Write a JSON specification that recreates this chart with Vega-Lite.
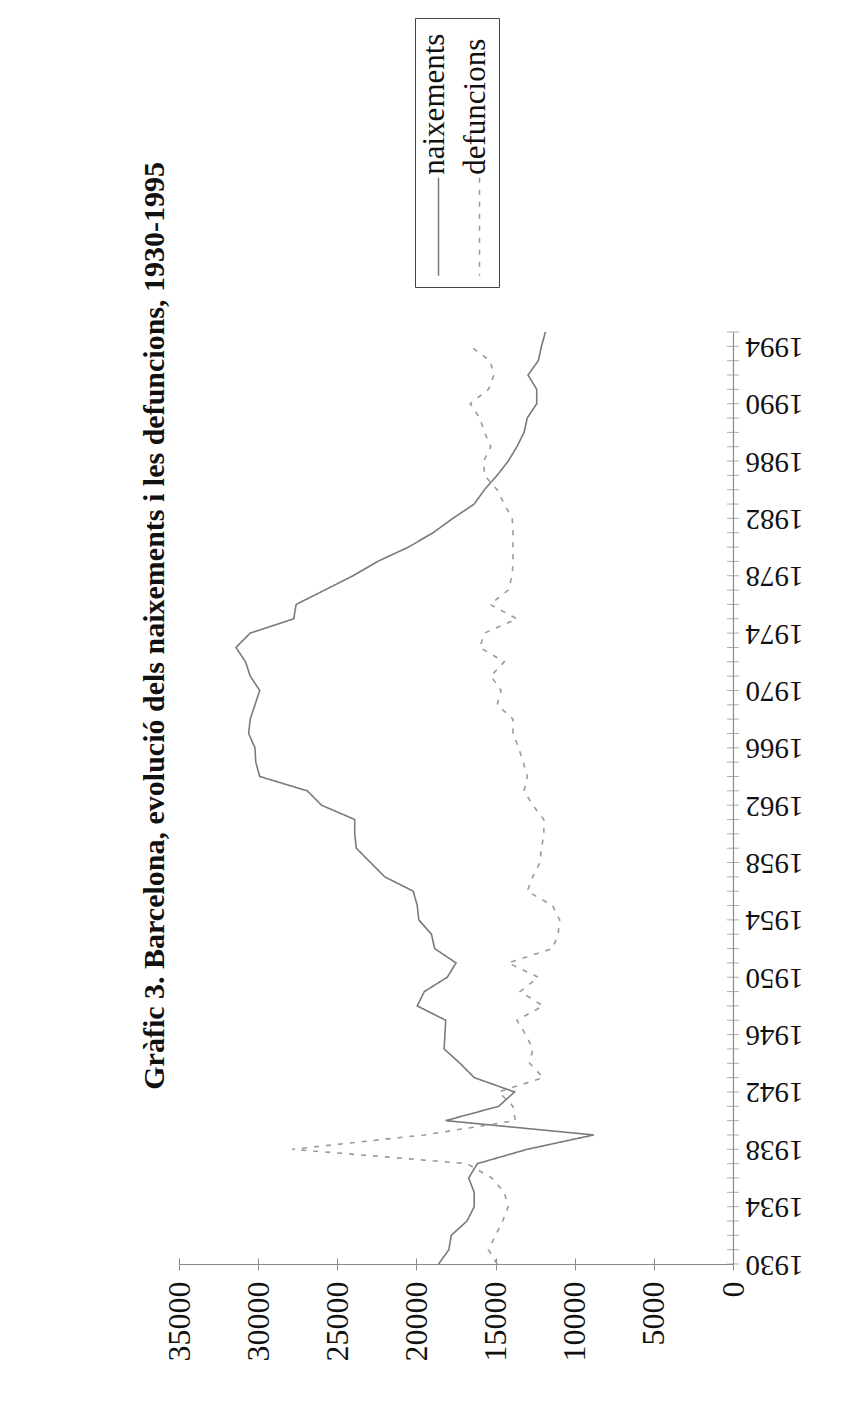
{
  "$schema": "https://vega.github.io/schema/vega-lite/v6.json",
  "width": 554,
  "height": 932,
  "autosize": {"type": "none"},
  "padding": {"left": 179, "top": 332, "right": 118, "bottom": 137},
  "background": "white",
  "title": {
    "text": "Gràfic 3. Barcelona, evolució dels naixements i les defuncions, 1930-1995",
    "orient": "left",
    "anchor": "end",
    "frame": "group",
    "font": "Liberation Serif",
    "fontSize": 30,
    "fontWeight": "bold",
    "color": "#111111",
    "offset": -7,
    "dx": 170
  },
  "config": {
    "view": {"stroke": null},
    "axis": {"grid": false, "title": null, "labelFont": "Liberation Serif", "labelFontSize": 29, "labelColor": "#111111", "domainColor": "#8a8a8a", "tickColor": "#8a8a8a", "domainWidth": 1.2}
  },
  "resolve": {"axis": {"x": "independent"}},
  "data": {
    "values": [
      {"year": 1930, "series": "naixements", "value": 18600},
      {"year": 1931, "series": "naixements", "value": 17950},
      {"year": 1932, "series": "naixements", "value": 17800},
      {"year": 1933, "series": "naixements", "value": 16800},
      {"year": 1934, "series": "naixements", "value": 16350},
      {"year": 1935, "series": "naixements", "value": 16350},
      {"year": 1936, "series": "naixements", "value": 16700},
      {"year": 1937, "series": "naixements", "value": 16150},
      {"year": 1938, "series": "naixements", "value": 13000},
      {"year": 1939, "series": "naixements", "value": 8800},
      {"year": 1940, "series": "naixements", "value": 18150},
      {"year": 1941, "series": "naixements", "value": 14800},
      {"year": 1942, "series": "naixements", "value": 13800},
      {"year": 1943, "series": "naixements", "value": 16350},
      {"year": 1944, "series": "naixements", "value": 17250},
      {"year": 1945, "series": "naixements", "value": 18250},
      {"year": 1946, "series": "naixements", "value": 18200},
      {"year": 1947, "series": "naixements", "value": 18150},
      {"year": 1948, "series": "naixements", "value": 19950},
      {"year": 1949, "series": "naixements", "value": 19500},
      {"year": 1950, "series": "naixements", "value": 18050},
      {"year": 1951, "series": "naixements", "value": 17500},
      {"year": 1952, "series": "naixements", "value": 18850},
      {"year": 1953, "series": "naixements", "value": 19050},
      {"year": 1954, "series": "naixements", "value": 19850},
      {"year": 1955, "series": "naixements", "value": 19950},
      {"year": 1956, "series": "naixements", "value": 20200},
      {"year": 1957, "series": "naixements", "value": 22000},
      {"year": 1958, "series": "naixements", "value": 22900},
      {"year": 1959, "series": "naixements", "value": 23800},
      {"year": 1960, "series": "naixements", "value": 23900},
      {"year": 1961, "series": "naixements", "value": 23900},
      {"year": 1962, "series": "naixements", "value": 26000},
      {"year": 1963, "series": "naixements", "value": 26900},
      {"year": 1964, "series": "naixements", "value": 29900},
      {"year": 1965, "series": "naixements", "value": 30150},
      {"year": 1966, "series": "naixements", "value": 30200},
      {"year": 1967, "series": "naixements", "value": 30600},
      {"year": 1968, "series": "naixements", "value": 30500},
      {"year": 1969, "series": "naixements", "value": 30200},
      {"year": 1970, "series": "naixements", "value": 29900},
      {"year": 1971, "series": "naixements", "value": 30500},
      {"year": 1972, "series": "naixements", "value": 30800},
      {"year": 1973, "series": "naixements", "value": 31400},
      {"year": 1974, "series": "naixements", "value": 30500},
      {"year": 1975, "series": "naixements", "value": 27750},
      {"year": 1976, "series": "naixements", "value": 27600},
      {"year": 1977, "series": "naixements", "value": 25800},
      {"year": 1978, "series": "naixements", "value": 24000},
      {"year": 1979, "series": "naixements", "value": 22450},
      {"year": 1980, "series": "naixements", "value": 20500},
      {"year": 1981, "series": "naixements", "value": 18950},
      {"year": 1982, "series": "naixements", "value": 17700},
      {"year": 1983, "series": "naixements", "value": 16350},
      {"year": 1984, "series": "naixements", "value": 15700},
      {"year": 1985, "series": "naixements", "value": 14900},
      {"year": 1986, "series": "naixements", "value": 14200},
      {"year": 1987, "series": "naixements", "value": 13650},
      {"year": 1988, "series": "naixements", "value": 13200},
      {"year": 1989, "series": "naixements", "value": 13000},
      {"year": 1990, "series": "naixements", "value": 12400},
      {"year": 1991, "series": "naixements", "value": 12400},
      {"year": 1992, "series": "naixements", "value": 12950},
      {"year": 1993, "series": "naixements", "value": 12300},
      {"year": 1994, "series": "naixements", "value": 12100},
      {"year": 1995, "series": "naixements", "value": 11850},
      {"year": 1930, "series": "defuncions", "value": 14900},
      {"year": 1931, "series": "defuncions", "value": 15450},
      {"year": 1932, "series": "defuncions", "value": 15000},
      {"year": 1933, "series": "defuncions", "value": 14550},
      {"year": 1934, "series": "defuncions", "value": 14200},
      {"year": 1935, "series": "defuncions", "value": 14450},
      {"year": 1936, "series": "defuncions", "value": 15250},
      {"year": 1937, "series": "defuncions", "value": 16800},
      {"year": 1938, "series": "defuncions", "value": 27850},
      {"year": 1939, "series": "defuncions", "value": 19500},
      {"year": 1940, "series": "defuncions", "value": 13750},
      {"year": 1941, "series": "defuncions", "value": 13900},
      {"year": 1942, "series": "defuncions", "value": 14800},
      {"year": 1943, "series": "defuncions", "value": 12000},
      {"year": 1944, "series": "defuncions", "value": 12850},
      {"year": 1945, "series": "defuncions", "value": 12650},
      {"year": 1946, "series": "defuncions", "value": 13100},
      {"year": 1947, "series": "defuncions", "value": 13650},
      {"year": 1948, "series": "defuncions", "value": 12000},
      {"year": 1949, "series": "defuncions", "value": 13450},
      {"year": 1950, "series": "defuncions", "value": 12300},
      {"year": 1951, "series": "defuncions", "value": 14200},
      {"year": 1952, "series": "defuncions", "value": 11400},
      {"year": 1953, "series": "defuncions", "value": 11050},
      {"year": 1954, "series": "defuncions", "value": 10950},
      {"year": 1955, "series": "defuncions", "value": 11400},
      {"year": 1956, "series": "defuncions", "value": 13000},
      {"year": 1957, "series": "defuncions", "value": 12650},
      {"year": 1958, "series": "defuncions", "value": 12200},
      {"year": 1959, "series": "defuncions", "value": 12100},
      {"year": 1960, "series": "defuncions", "value": 11950},
      {"year": 1961, "series": "defuncions", "value": 11950},
      {"year": 1962, "series": "defuncions", "value": 12650},
      {"year": 1963, "series": "defuncions", "value": 13200},
      {"year": 1964, "series": "defuncions", "value": 13000},
      {"year": 1965, "series": "defuncions", "value": 13250},
      {"year": 1966, "series": "defuncions", "value": 13550},
      {"year": 1967, "series": "defuncions", "value": 13900},
      {"year": 1968, "series": "defuncions", "value": 13900},
      {"year": 1969, "series": "defuncions", "value": 14900},
      {"year": 1970, "series": "defuncions", "value": 14650},
      {"year": 1971, "series": "defuncions", "value": 15300},
      {"year": 1972, "series": "defuncions", "value": 14450},
      {"year": 1973, "series": "defuncions", "value": 16000},
      {"year": 1974, "series": "defuncions", "value": 15700},
      {"year": 1975, "series": "defuncions", "value": 13650},
      {"year": 1976, "series": "defuncions", "value": 15350},
      {"year": 1977, "series": "defuncions", "value": 14200},
      {"year": 1978, "series": "defuncions", "value": 13950},
      {"year": 1979, "series": "defuncions", "value": 13900},
      {"year": 1980, "series": "defuncions", "value": 13900},
      {"year": 1981, "series": "defuncions", "value": 13900},
      {"year": 1982, "series": "defuncions", "value": 13950},
      {"year": 1983, "series": "defuncions", "value": 14450},
      {"year": 1984, "series": "defuncions", "value": 14900},
      {"year": 1985, "series": "defuncions", "value": 15700},
      {"year": 1986, "series": "defuncions", "value": 15750},
      {"year": 1987, "series": "defuncions", "value": 15300},
      {"year": 1988, "series": "defuncions", "value": 15700},
      {"year": 1989, "series": "defuncions", "value": 16000},
      {"year": 1990, "series": "defuncions", "value": 16600},
      {"year": 1991, "series": "defuncions", "value": 15450},
      {"year": 1992, "series": "defuncions", "value": 15100},
      {"year": 1993, "series": "defuncions", "value": 15350},
      {"year": 1994, "series": "defuncions", "value": 16600}
    ]
  },
  "layer": [
    {
      "mark": {"type": "line", "strokeWidth": 1.6},
      "encoding": {
        "y": {
          "field": "year", "type": "quantitative",
          "scale": {"domain": [1930, 1995], "nice": false, "zero": false},
          "axis": {
            "orient": "right",
            "values": [1930,1931,1932,1933,1934,1935,1936,1937,1938,1939,1940,1941,1942,1943,1944,1945,1946,1947,1948,1949,1950,1951,1952,1953,1954,1955,1956,1957,1958,1959,1960,1961,1962,1963,1964,1965,1966,1967,1968,1969,1970,1971,1972,1973,1974,1975,1976,1977,1978,1979,1980,1981,1982,1983,1984,1985,1986,1987,1988,1989,1990,1991,1992,1993,1994,1995],
            "format": "d",
            "labelExpr": "(datum.value - 1930) % 4 === 0 ? datum.label : ''",
            "labelAngle": 180,
            "labelAlign": "right",
            "labelBaseline": "middle",
            "labelOverlap": false,
            "labelPadding": 12,
            "ticks": false
          }
        },
        "x": {
          "field": "value", "type": "quantitative",
          "scale": {"domain": [0, 35000], "reverse": true, "nice": false},
          "axis": {
            "orient": "bottom",
            "values": [0, 5000, 10000, 15000, 20000, 25000, 30000, 35000],
            "format": "d",
            "labelAngle": 270,
            "labelAlign": "right",
            "labelBaseline": "middle",
            "labelFontSize": 32,
            "labelPadding": 11,
            "tickSize": 6
          }
        },
        "order": {"field": "year", "type": "quantitative"},
        "color": {
          "field": "series", "type": "nominal",
          "scale": {"domain": ["naixements", "defuncions"], "range": ["#7a7a7a", "#9a9a9a"]},
          "legend": {
            "title": null,
            "orient": "none",
            "legendX": 236,
            "legendY": -314,
            "direction": "horizontal",
            "labelFont": "Liberation Serif",
            "labelFontSize": 31,
            "labelColor": "#111111",
            "labelLimit": 400,
            "symbolType": "M0,136L0,234",
            "symbolSize": 4,
            "symbolStrokeWidth": 1.5,
            "labelOffset": -19,
            "columnPadding": 9,
            "padding": 8,
            "strokeColor": "#444444",
            "fillColor": "white",
            "encode": {"labels": {"update": {"angle": {"value": -90}, "dx": {"value": -133}}}}
          }
        },
        "strokeDash": {
          "field": "series", "type": "nominal",
          "scale": {"domain": ["naixements", "defuncions"], "range": [[1, 0], [5, 7]]}
        }
      }
    },
    {
      "transform": [{"filter": "datum.series === 'naixements'"}],
      "mark": {"type": "tick", "orient": "horizontal", "size": 12, "thickness": 1, "color": "#8a8a8a"},
      "encoding": {
        "y": {"field": "year", "type": "quantitative"},
        "x": {
          "datum": 0,
          "axis": {
            "orient": "top",
            "offset": -932,
            "values": [0, 5000, 10000, 15000, 20000, 25000, 30000, 35000],
            "labels": false,
            "domain": false,
            "tickSize": 6
          }
        }
      }
    }
  ]
}
